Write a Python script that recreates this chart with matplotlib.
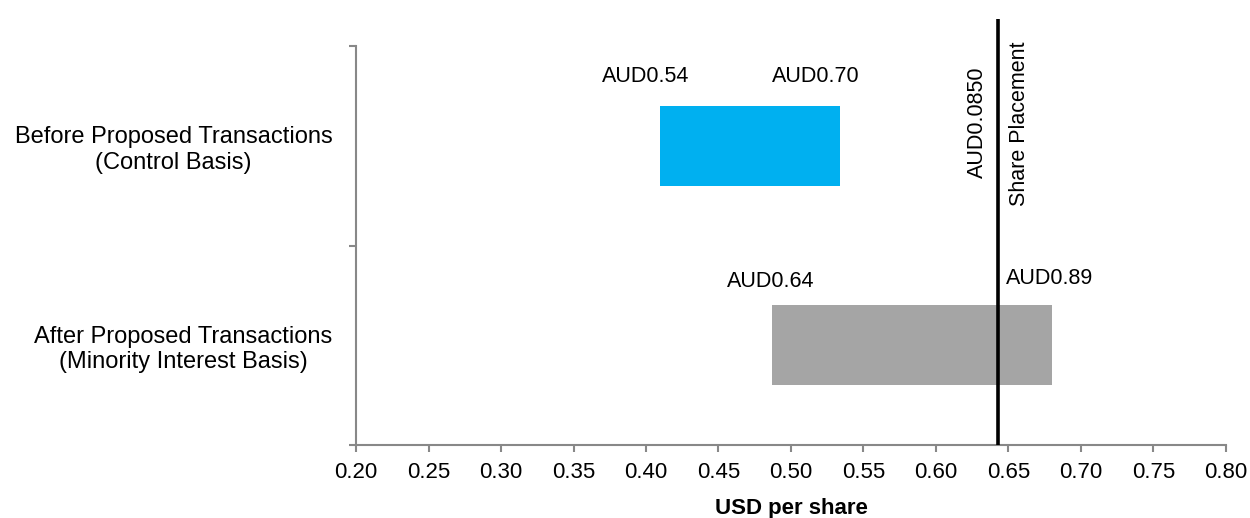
import matplotlib
matplotlib.use("Agg")
import matplotlib.pyplot as plt
from matplotlib.ticker import FixedLocator

plt.rcParams['font.family'] = ['Liberation Sans', 'DejaVu Sans']

# Valuation ranges (USD per share) and their AUD equivalents
categories = ["Before Proposed Transactions\n(Control Basis)",
              "After Proposed Transactions\n(Minority Interest Basis)"]
usd_low = [0.410, 0.487]
usd_high = [0.534, 0.680]
aud_low_labels = ["AUD0.54", "AUD0.64"]
aud_high_labels = ["AUD0.70", "AUD0.89"]
bar_colors = ["#00B0F0", "#A5A5A5"]

placement_usd = 0.643
placement_value_label = "AUD0.0850"
placement_name = "Share Placement"

x_ticks = [0.20, 0.25, 0.30, 0.35, 0.40, 0.45, 0.50, 0.55, 0.60, 0.65, 0.70, 0.75, 0.80]
x_label = "USD per share"

fig = plt.figure(figsize=(12.5, 5.18), dpi=100)
ax = fig.add_axes([0.2848, 0.1409, 0.9808 - 0.2848, 0.9112 - 0.1409])

# Top category drawn at the top band
y_pos = [1.5, 0.5]
bar_h = 0.4
for y, lo, hi, c in zip(y_pos, usd_low, usd_high, bar_colors):
    ax.barh(y, hi - lo, left=lo, height=bar_h, color=c, zorder=2)

# Range end labels above each bar (offsets in points)
low_offsets = [-11, -1]
high_offsets = [-18, -2]
low_rise = [21, 17]
high_rise = [21, 19]
for i, y in enumerate(y_pos):
    ax.annotate(aud_low_labels[i], (usd_low[i], y + bar_h / 2),
                xytext=(low_offsets[i], low_rise[i]), textcoords="offset points",
                ha="center", va="center", fontsize=15.5, color="black")
    ax.annotate(aud_high_labels[i], (usd_high[i], y + bar_h / 2),
                xytext=(high_offsets[i], high_rise[i]), textcoords="offset points",
                ha="center", va="center", fontsize=15.5, color="black")

# Share placement price marker
ax.plot([placement_usd, placement_usd], [0, 2.135], color="black", lw=2.6,
        clip_on=False, zorder=3, solid_capstyle="butt")
ax.annotate(placement_value_label, (placement_usd, 1.62), xytext=(-15, 0),
            textcoords="offset points", rotation=90, ha="center", va="center",
            fontsize=15.5)
ax.annotate(placement_name, (placement_usd, 1.61), xytext=(15, 0),
            textcoords="offset points", rotation=90, ha="center", va="center",
            fontsize=15.5)

ax.set_xlim(0.20, 0.80)
ax.set_ylim(0, 2)
ax.set_xticks(x_ticks)
ax.set_xticklabels([f"{v:.2f}" for v in x_ticks], fontsize=16)
ax.set_xlabel(x_label, fontsize=16, fontweight="bold", labelpad=11)

ax.set_yticks(y_pos)
ax.set_yticklabels(categories, fontsize=17)
for t in ax.get_yticklabels():
    t.set_multialignment("center")
ax.yaxis.set_minor_locator(FixedLocator([0, 1, 2]))
ax.tick_params(axis="y", which="major", length=0, pad=17)
ax.tick_params(axis="y", which="minor", length=5, width=1.5, color="#888888")
ax.tick_params(axis="x", which="major", length=5, width=1.5, color="#888888", pad=7)

for s in ["top", "right"]:
    ax.spines[s].set_visible(False)
for s in ["left", "bottom"]:
    ax.spines[s].set_color("#888888")
    ax.spines[s].set_linewidth(1.5)

fig.savefig("out.png", dpi=100)
